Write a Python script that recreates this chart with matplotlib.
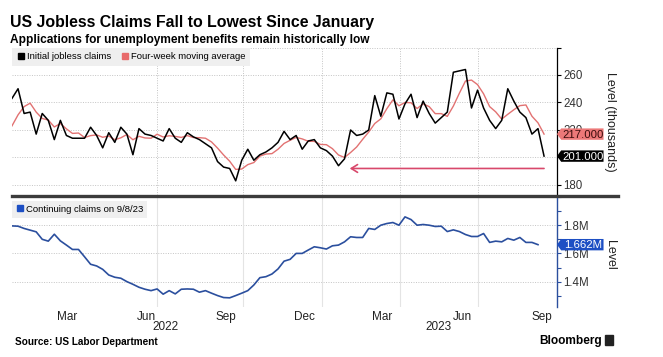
import matplotlib.pyplot as plt
import matplotlib.transforms as mtransforms
from matplotlib.lines import Line2D
from matplotlib.patches import Polygon, Rectangle
import pandas as pd

NARROW = ['Liberation Sans Narrow', 'Liberation Sans', 'DejaVu Sans']
plt.rcParams['font.family'] = ['Liberation Sans', 'DejaVu Sans']

# weekly data, thousands (initial / 4-wk avg) and millions (continuing)
weeks = pd.date_range('2022-01-07', periods=89, freq='7D')
initial = [243, 250, 232, 233, 217, 232, 227, 213, 227, 216,
           214, 214, 214, 222, 216, 207, 218, 211, 222, 217,
           202, 221, 217, 216, 214, 212, 221, 214, 211, 218,
           215, 213, 210, 207, 197, 193, 192, 183, 198, 206,
           198, 202, 204, 207, 211, 219, 213, 216, 206, 212,
           213, 207, 205, 201, 194, 199, 220, 216, 217, 220,
           245, 230, 247, 246, 228, 239, 246, 229, 241, 232,
           225, 229, 233, 262, 263, 264, 236, 249, 236, 227,
           221, 227, 250, 241, 233, 229, 217, 221, 201]
four_week = [223, 231, 237, 239.5, 233, 228.4, 227.2, 222.2, 224.7, 220.8,
             217.5, 217.8, 214.5, 215.9, 216.4, 214.7, 215.6, 212.9, 214.3, 216.7,
             212.9, 215.4, 214.2, 214, 216.9, 214.9, 215.8, 215.3, 214.6, 215.9,
             214.5, 214.4, 214, 211.3, 206.8, 201.8, 197.3, 191.3, 191.6, 194.8,
             196.3, 201, 202.5, 202.8, 206, 210.2, 212.5, 214.6, 213.5, 211.8,
             211.7, 209.5, 209.3, 206.4, 201.8, 200, 203.6, 207.6, 213.2, 218.5,
             224.7, 228.1, 235.5, 241.9, 237.6, 240, 239.8, 235.6, 239, 237,
             231.9, 231.9, 229.9, 237.4, 246.8, 255.6, 256.3, 253, 246.3, 237,
             233.2, 227.9, 231.4, 234.7, 237.7, 238.2, 230, 225.2, 217]
cont_weeks = weeks[:88]
continuing = [1.795, 1.793, 1.777, 1.765, 1.753, 1.700, 1.687, 1.736, 1.689, 1.659,
              1.628, 1.628, 1.576, 1.523, 1.511, 1.487, 1.447, 1.431, 1.424, 1.400,
              1.381, 1.360, 1.346, 1.336, 1.348, 1.311, 1.336, 1.313, 1.346, 1.348,
              1.346, 1.325, 1.336, 1.318, 1.301, 1.287, 1.285, 1.301, 1.318, 1.336,
              1.376, 1.428, 1.435, 1.454, 1.490, 1.545, 1.558, 1.600, 1.600, 1.624,
              1.647, 1.640, 1.631, 1.654, 1.659, 1.682, 1.718, 1.713, 1.713, 1.777,
              1.770, 1.800, 1.812, 1.819, 1.800, 1.859, 1.840, 1.800, 1.805, 1.800,
              1.791, 1.793, 1.755, 1.767, 1.755, 1.734, 1.720, 1.720, 1.741, 1.678,
              1.687, 1.682, 1.706, 1.694, 1.713, 1.678, 1.678, 1.662]

month_ticks = pd.to_datetime(['2022-03-12', '2022-06-12', '2022-09-12', '2022-12-12',
                              '2023-03-12', '2023-06-12', '2023-09-12'])
month_labels = ['Mar', 'Jun', 'Sep', 'Dec', 'Mar', 'Jun', 'Sep']
grid_dates = pd.to_datetime(['2022-06-24', '2022-10-01', '2023-01-01', '2023-04-01', '2023-07-01'])
xmin, xmax = pd.Timestamp('2022-01-07'), pd.Timestamp('2023-09-30')

W, H = 663, 357
fig = plt.figure(figsize=(W / 100, H / 100), dpi=100)


def box(l, t, r, b):
    return [l / W, 1 - b / H, (r - l) / W, (b - t) / H]


def tag(ax, y, text, face, fg):
    # pointed value label sitting on the right axis
    blend = mtransforms.blended_transform_factory(ax.transAxes, ax.transData)
    tr = mtransforms.Affine2D().scale(fig.dpi / 72) + mtransforms.ScaledTranslation(1, y, blend)
    pts = [(0, 0), (3, 4.1), (33.5, 4.1), (33.5, -4.1), (3, -4.1)]
    ax.add_artist(Polygon(pts, closed=True, fc=face, ec='none', transform=tr,
                          clip_on=False, zorder=6))
    ax.text(18.5, -0.3, text, transform=tr, ha='center', va='center', color=fg,
            fontsize=8.2, family=NARROW, zorder=7, clip_on=False)


dot = (0, (1, 1.5))

# ---- top panel: initial claims
ax1 = fig.add_axes(box(12, 47.5, 557, 195))
ax1.plot(weeks, initial, color='black', lw=1.1, zorder=3)
ax1.plot(weeks, four_week, color='#e27272', lw=1.0, zorder=2)
ax1.set_xlim(xmin, xmax)
ax1.set_ylim(172.7, 280)
for v in [180, 200, 220, 240, 260, 280]:
    ax1.axhline(v, color='#c4c4c4', lw=0.7, ls=dot, zorder=0)
for d in grid_dates:
    ax1.axvline(d, color='#c4c4c4', lw=0.7, ls=dot, zorder=0)
ax1.yaxis.tick_right()
# 200 sits fully under the 201.000 tag in the original
ax1.set_yticks([180, 200, 220, 240, 260, 280], ['180', '', '220', '240', '260', ''])
ax1.set_xticks([])
for s in ['left', 'top', 'bottom']:
    ax1.spines[s].set_visible(False)
ax1.spines['right'].set_linewidth(0.9)
ax1.tick_params(axis='y', direction='out', length=3, width=0.8, pad=1.5,
                labelsize=8.3, labelcolor='#333333')
ax1.annotate('', xy=(pd.Timestamp('2023-02-02'), 192), xytext=(weeks[-1], 192),
             arrowprops=dict(arrowstyle='->,head_length=0.45,head_width=0.28',
                             color='#d8486b', lw=1.2, shrinkA=0, shrinkB=0))
h1 = [Line2D([], [], ls='none', marker='s', ms=5, color='black'),
      Line2D([], [], ls='none', marker='s', ms=5, color='#e86a6a')]
ax1.legend(h1, ['Initial jobless claims', 'Four-week moving average'], ncol=2,
           loc='upper left', bbox_to_anchor=(0, 1), borderaxespad=0,
           frameon=True, fancybox=False, facecolor='#efefef', edgecolor='none',
           framealpha=1, handlelength=0.8, handletextpad=0.3, columnspacing=1.0,
           borderpad=0.5, prop=dict(family=NARROW, size=6.8))
tag(ax1, 217, '217.000', '#ec7878', '#3a0c0c')
tag(ax1, 201, '201.000', 'black', 'white')

# ---- bottom panel: continuing claims
blue = '#2b4f9e'
ax2 = fig.add_axes(box(12, 197, 557, 307))
ax2.plot(cont_weeks, continuing, color=blue, lw=1.2, zorder=3)
ax2.set_xlim(xmin, xmax)
ax2.set_ylim(1.22, 2.0)
for v in [1.4, 1.6, 1.8]:
    ax2.axhline(v, color='#c4c4c4', lw=0.7, ls=dot, zorder=0)
for d in grid_dates:
    ax2.axvline(d, color='#e4e4e4', lw=0.8, zorder=0)
ax2.yaxis.tick_right()
yt = [1.3, 1.4, 1.5, 1.6, 1.7, 1.8, 1.9, 2.0]
ax2.set_yticks(yt, ['', '1.4M', '', '1.6M', '', '1.8M', '', ''])
ax2.set_xticks(month_ticks, month_labels)
for s in ['left', 'top', 'bottom']:
    ax2.spines[s].set_visible(False)
ax2.spines['right'].set_color(blue)
ax2.spines['right'].set_linewidth(1.0)
ax2.tick_params(axis='y', direction='out', length=3, width=0.8, pad=1.5, color=blue,
                labelsize=8.3, labelcolor='#333333')
ax2.tick_params(axis='x', length=0, pad=3, labelsize=8.5, labelcolor='#222222')
yr = mtransforms.blended_transform_factory(ax2.transData, ax2.transAxes)
ax2.text(pd.Timestamp('2022-07-04'), -0.18, '2022', transform=yr, ha='center', va='center',
         fontsize=8.5, color='#222222')
ax2.text(pd.Timestamp('2023-05-16'), -0.18, '2023', transform=yr, ha='center', va='center',
         fontsize=8.5, color='#222222')
h2 = [Line2D([], [], ls='none', marker='s', ms=5, color='#1d4fc4')]
ax2.legend(h2, ['Continuing claims on 9/8/23'], loc='upper left',
           bbox_to_anchor=(0, 1 - 4 / 110), borderaxespad=0, frameon=True, fancybox=False,
           facecolor='#efefef', edgecolor='none', framealpha=1, handlelength=0.8,
           handletextpad=0.3, borderpad=0.4, prop=dict(family=NARROW, size=6.8))
tag(ax2, 1.662, '1.662M', '#1d4fc4', 'white')

# ---- figure furniture
fig.add_artist(Line2D([12 / W, 618 / W], [1 - 195.8 / H] * 2, color='#3c3c3c', lw=2.4,
                      transform=fig.transFigure))
fig.text(10 / W, 1 - 27 / H, 'US Jobless Claims Fall to Lowest Since January',
         fontsize=11.4, fontweight='bold', family=NARROW, va='baseline')
fig.text(10 / W, 1 - 43 / H, 'Applications for unemployment benefits remain historically low',
         fontsize=8.6, fontweight='bold', family=NARROW, va='baseline')
fig.text(610 / W, 1 - 121.5 / H, 'Level (thousands)', rotation=270, ha='center', va='center',
         fontsize=9, color='#222222')
fig.text(610 / W, 1 - 255 / H, 'Level', rotation=270, ha='center', va='center',
         fontsize=9, color='#222222')
fig.text(15 / W, 1 - 345 / H, 'Source: US Labor Department', fontsize=7.2,
         fontweight='bold', va='baseline')
fig.text(602 / W, 1 - 344 / H, 'Bloomberg', ha='right', fontsize=8.6, fontweight='bold',
         va='baseline')
fig.add_artist(Rectangle((605 / W, 1 - 345 / H), 8 / W, 10 / H, color='#222222',
                         transform=fig.transFigure))

fig.savefig('out.png', dpi=100)
